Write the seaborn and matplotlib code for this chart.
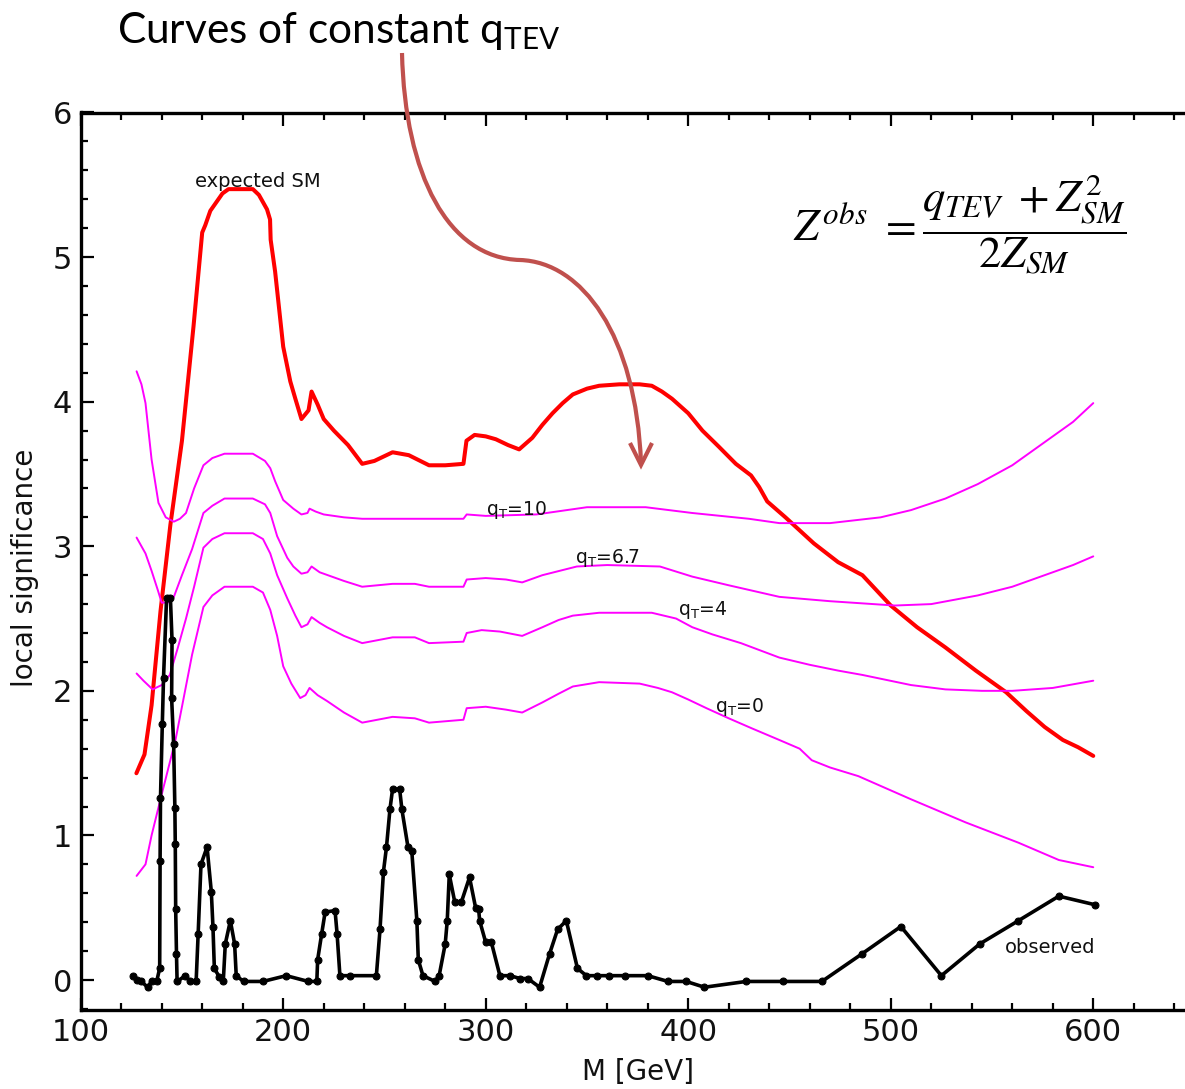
import numpy as np
import pandas as pd
import matplotlib
matplotlib.use("Agg")
import matplotlib.pyplot as plt
import seaborn as sns
from matplotlib.path import Path
from matplotlib.patches import PathPatch
from matplotlib.lines import Line2D
from matplotlib.ticker import MultipleLocator

# ---------------- data ----------------
m_expected = [127.5, 131.5, 135, 139.4, 144.3, 150, 155.7, 160, 161.5, 164, 167, 170, 173, 185, 188, 192,
              193.5, 193.8, 196, 200, 203.5, 206, 209, 212.5, 214, 217, 220, 225, 232, 239, 245, 254, 262,
              272, 280, 289, 290.5, 294.5, 300, 305, 311, 316.5, 323, 328, 333, 338, 343, 350, 356, 366,
              376, 382, 387, 392, 400, 407, 415, 423.5, 431, 435, 439, 448, 455, 462, 474, 486, 500, 513,
              527, 542, 557, 567, 576, 585, 592.5, 600]
z_expected = [1.43, 1.56, 1.90, 2.55, 3.15, 3.73, 4.52, 5.17, 5.22, 5.32, 5.38, 5.44, 5.47, 5.47, 5.43, 5.33,
              5.26, 5.12, 4.90, 4.38, 4.14, 4.02, 3.88, 3.94, 4.07, 3.98, 3.88, 3.80, 3.70, 3.57, 3.59, 3.65, 3.63,
              3.56, 3.56, 3.57, 3.73, 3.77, 3.76, 3.74, 3.70, 3.67, 3.75, 3.84, 3.92, 3.99, 4.05, 4.09, 4.11, 4.12,
              4.12, 4.11, 4.07, 4.02, 3.92, 3.80, 3.69, 3.57, 3.49, 3.41, 3.31, 3.20, 3.11, 3.02, 2.89, 2.80, 2.59, 2.44,
              2.30, 2.14, 1.99, 1.86, 1.75, 1.66, 1.61, 1.55]

m_q10 = [127.6, 130, 132, 135, 138.4, 142, 146, 149, 152, 156, 160.6, 165, 171, 185, 191, 193.6, 196, 200,
         205, 209, 212, 213, 216, 220, 230, 239, 262, 289, 290.6, 300, 325, 350, 379, 402, 430, 445, 470,
         495, 510, 527, 543, 560, 576, 590, 600]
z_q10 = [4.21, 4.12, 3.99, 3.60, 3.30, 3.20, 3.17, 3.19, 3.23, 3.40, 3.56, 3.61, 3.64, 3.64, 3.59, 3.54, 3.45, 3.32,
         3.26, 3.22, 3.23, 3.26, 3.24, 3.22, 3.20, 3.19, 3.19, 3.19, 3.22, 3.21, 3.22, 3.27, 3.27, 3.23, 3.19, 3.16, 3.16,
         3.20, 3.25, 3.33, 3.43, 3.56, 3.72, 3.86, 3.99]

m_q67 = [127.6, 130, 132, 135, 138, 140, 143, 146, 150, 155, 160.6, 165, 171, 185, 191, 193.6, 197, 202,
         205, 209, 212, 214, 218, 222, 230, 239, 254, 265, 272, 289, 290.6, 300, 310, 318, 328, 345, 360,
         386, 402, 420, 445, 470, 502, 520, 543, 560, 576, 590, 600]
z_q67 = [3.06, 3.00, 2.95, 2.83, 2.70, 2.61, 2.61, 2.65, 2.80, 2.98, 3.23, 3.28, 3.33, 3.33, 3.29, 3.23, 3.07, 2.92,
         2.86, 2.81, 2.82, 2.86, 2.82, 2.80, 2.76, 2.72, 2.74, 2.74, 2.72, 2.72, 2.77, 2.78, 2.77, 2.75, 2.80, 2.86, 2.87,
         2.86, 2.79, 2.73, 2.65, 2.62, 2.59, 2.60, 2.66, 2.72, 2.80, 2.87, 2.93]

m_q4 = [127.6, 131, 135.5, 140, 144, 148, 152, 156, 160.6, 165, 171, 185, 190, 193.6, 197, 202, 206, 209,
        212, 214, 218, 221.6, 230, 239, 254, 265, 272, 289, 290.6, 298, 307, 318, 328, 336, 343, 356, 382,
        394, 402, 412, 426, 445, 460, 474, 486, 510, 527, 545, 560, 580, 600]
z_q4 = [2.12, 2.07, 2.01, 2.04, 2.11, 2.30, 2.50, 2.72, 2.99, 3.05, 3.09, 3.09, 3.05, 2.95, 2.80, 2.64, 2.52, 2.44,
        2.46, 2.51, 2.47, 2.44, 2.38, 2.33, 2.37, 2.37, 2.33, 2.34, 2.40, 2.42, 2.41, 2.38, 2.44, 2.49, 2.52, 2.54, 2.54,
        2.50, 2.44, 2.39, 2.33, 2.23, 2.18, 2.14, 2.11, 2.04, 2.01, 2.00, 2.00, 2.02, 2.07]

m_q0 = [127.6, 132, 135, 139.4, 143, 146.8, 150.7, 155, 160.6, 165, 171, 185, 190, 193.6, 197, 200, 204,
        208.4, 211, 213, 217, 221.6, 230, 239, 254, 265, 272, 289, 290.6, 300, 310, 318, 328, 336, 343, 356,
        376, 385, 392, 400, 409, 420, 431.5, 445, 455, 461, 470, 484, 510, 537, 563, 583, 600]
z_q0 = [0.72, 0.80, 1.00, 1.25, 1.45, 1.66, 1.94, 2.25, 2.58, 2.66, 2.72, 2.72, 2.68, 2.56, 2.38, 2.17, 2.05,
        1.95, 1.97, 2.02, 1.97, 1.93, 1.85, 1.78, 1.82, 1.81, 1.78, 1.80, 1.88, 1.89, 1.87, 1.85, 1.92, 1.98, 2.03, 2.06,
        2.05, 2.02, 1.99, 1.94, 1.88, 1.81, 1.74, 1.66, 1.60, 1.52, 1.47, 1.41, 1.25, 1.09, 0.95, 0.83, 0.78]

m_observed = [126, 128, 130, 133, 135, 137.5, 139, 139.2, 139.4, 140.3, 140.9, 142.4, 144.3, 145.1, 144.9,
              145.9, 146.5, 146.7, 146.9, 147.3, 147.6, 151.7, 154, 157, 158, 159.4, 162.4, 164.5, 165.3,
              166, 168.5, 170.4, 171.4, 173.9, 176, 176.8, 180.4, 190, 201.5, 212.4, 216.6, 217, 219,
              220.7, 225.6, 226.6, 228, 233, 246, 247.8, 249.5, 251, 252.7, 254, 257.5, 258.6, 261.6,
              263.5, 266, 266.7, 269, 275, 277, 280, 281, 282, 284.7, 288, 292, 295, 296.5, 297, 300,
              302.8, 307, 312, 317, 320.8, 326.6, 331.5, 335.5, 339.8, 345.3, 349.7, 355, 361, 369, 380,
              390, 399, 408, 428.6, 447, 466, 485.7, 505, 525, 544, 563, 583, 601]
z_observed = [0.03, 0.00, -0.01, -0.05, -0.01, -0.01, 0.08, 0.82, 1.26, 1.77, 2.09, 2.64, 2.64, 2.35, 1.95,
              1.63, 1.19, 0.94, 0.49, 0.18, -0.01, 0.03, -0.01, -0.01, 0.32, 0.80, 0.92, 0.61, 0.37,
              0.08, 0.02, -0.01, 0.25, 0.41, 0.25, 0.03, -0.01, -0.01, 0.03, -0.01, -0.01, 0.14, 0.32,
              0.47, 0.48, 0.32, 0.03, 0.03, 0.03, 0.35, 0.75, 0.92, 1.18, 1.32, 1.32, 1.18, 0.92,
              0.89, 0.41, 0.14, 0.03, -0.01, 0.03, 0.25, 0.41, 0.73, 0.54, 0.54, 0.71, 0.50, 0.49, 0.41, 0.26,
              0.26, 0.03, 0.03, 0.01, 0.01, -0.05, 0.18, 0.35, 0.41, 0.08, 0.03, 0.03, 0.03, 0.03, 0.03,
              -0.01, -0.01, -0.05, -0.01, -0.01, -0.01, 0.18, 0.37, 0.03, 0.25, 0.41, 0.58, 0.52]

x_ticks = [100, 200, 300, 400, 500, 600]
y_ticks = [0, 1, 2, 3, 4, 5, 6]

# curve labels: (text, M, Z, alignment)
curve_labels = [("expected SM", 187.6, 5.484, "center"),
                (r"q$_{\rm T}$=10", 300.1, 3.216, "left"),
                (r"q$_{\rm T}$=6.7", 344.1, 2.884, "left"),
                (r"q$_{\rm T}$=4", 395.0, 2.524, "left"),
                (r"q$_{\rm T}$=0", 413.3, 1.853, "left"),
                ("observed", 556.4, 0.187, "left")]

# ---------------- styling ----------------
sns.set_style("white")
plt.rcParams["font.family"] = ["DejaVu Sans"]
plt.rcParams["mathtext.fontset"] = "dejavusans"

W, H = 1185, 1089
fig = plt.figure(figsize=(W / 100, H / 100), dpi=100)
left_px, top_px, bot_px = 80.7, 112.5, 1009.5
ax = fig.add_axes([left_px / W, (H - bot_px) / H, (W - left_px) / W, (bot_px - top_px) / H])

RED = "#ff0000"
MAG = "#ff00ff"

sns.lineplot(x=m_expected, y=z_expected, sort=False, estimator=None, color=RED, lw=2.9, ax=ax)
for mm, zz in [(m_q10, z_q10), (m_q67, z_q67), (m_q4, z_q4), (m_q0, z_q0)]:
    sns.lineplot(x=mm, y=zz, sort=False, estimator=None, color=MAG, lw=1.4, ax=ax)
sns.lineplot(x=m_observed, y=z_observed, sort=False, estimator=None, color="black", lw=2.6,
             marker="o", markersize=5, markeredgecolor="black", markerfacecolor="black", ax=ax)

ax.set_xlim(100, 645.3)
ax.set_ylim(-0.204, 6.0)
ax.set_xticks(x_ticks)
ax.set_yticks(y_ticks)
ax.xaxis.set_minor_locator(MultipleLocator(20))
ax.yaxis.set_minor_locator(MultipleLocator(0.2))
ax.tick_params(which="both", direction="in", top=True, right=False, bottom=True, left=True,
               color="black", width=1.6)
ax.tick_params(which="major", length=9, labelsize=22, pad=6, labelcolor="#111111")
ax.tick_params(which="minor", length=5)
ax.spines["right"].set_visible(False)
for s in ["left", "top", "bottom"]:
    ax.spines[s].set_linewidth(2.4)
    ax.spines[s].set_color("black")

ax.set_xlabel("M [GeV]", fontsize=20, color="#111111")
ax.set_ylabel("local significance", fontsize=20, color="#111111")
ax.xaxis.label.set_va("center")
ax.yaxis.label.set_va("center")
ax.xaxis.set_label_coords(0.5047, -0.0697)
ax.yaxis.set_label_coords(-0.0504, 0.4928)

for txt, xm, yz, ha in curve_labels:
    ax.text(xm, yz, txt, fontsize=14 if ha == "center" or txt == "observed" else 13.5,
            ha=ha, va="baseline", color="#111111", math_fontfamily="dejavusans")

# formula
fig.text(793 / W, 1 - 224.5 / H,
         r"$Z^{obs}\ = \dfrac{q_{TEV}\ + Z_{SM}^{2}}{2Z_{SM}}$",
         fontsize=32, ha="left", va="center", math_fontfamily="stix", color="black")

# headline
plt.rcParams["mathtext.fontset"] = "custom"
plt.rcParams["mathtext.rm"] = "Lato"
fig.text(117 / W, 1 - 43 / H, r"Curves of constant q$_\mathregular{TEV}$", fontsize=30.5,
         family="Lato", ha="left", va="baseline", color="black")

# curved arrow (figure pixel coords -> fraction)
ARROW = "#c0504d"
def fp(x, y):
    return (x / W, 1 - y / H)
verts = [fp(402, 53), fp(405, 175), fp(448, 258), fp(520, 260),
         fp(582, 262), fp(636, 335), fp(641, 463)]
codes = [Path.MOVETO, Path.CURVE4, Path.CURVE4, Path.CURVE4, Path.CURVE4, Path.CURVE4, Path.CURVE4]
fig.patches.append(PathPatch(Path(verts, codes), transform=fig.transFigure, fill=False,
                             edgecolor=ARROW, lw=3.0, capstyle="butt"))
hx = [630 / W, 641 / W, 652 / W]
hy = [1 - 443 / H, 1 - 465 / H, 1 - 443 / H]
fig.lines.append(Line2D(hx, hy, transform=fig.transFigure, color=ARROW, lw=3.0,
                        solid_joinstyle="miter", solid_capstyle="butt"))

fig.savefig("out.png", dpi=100)
